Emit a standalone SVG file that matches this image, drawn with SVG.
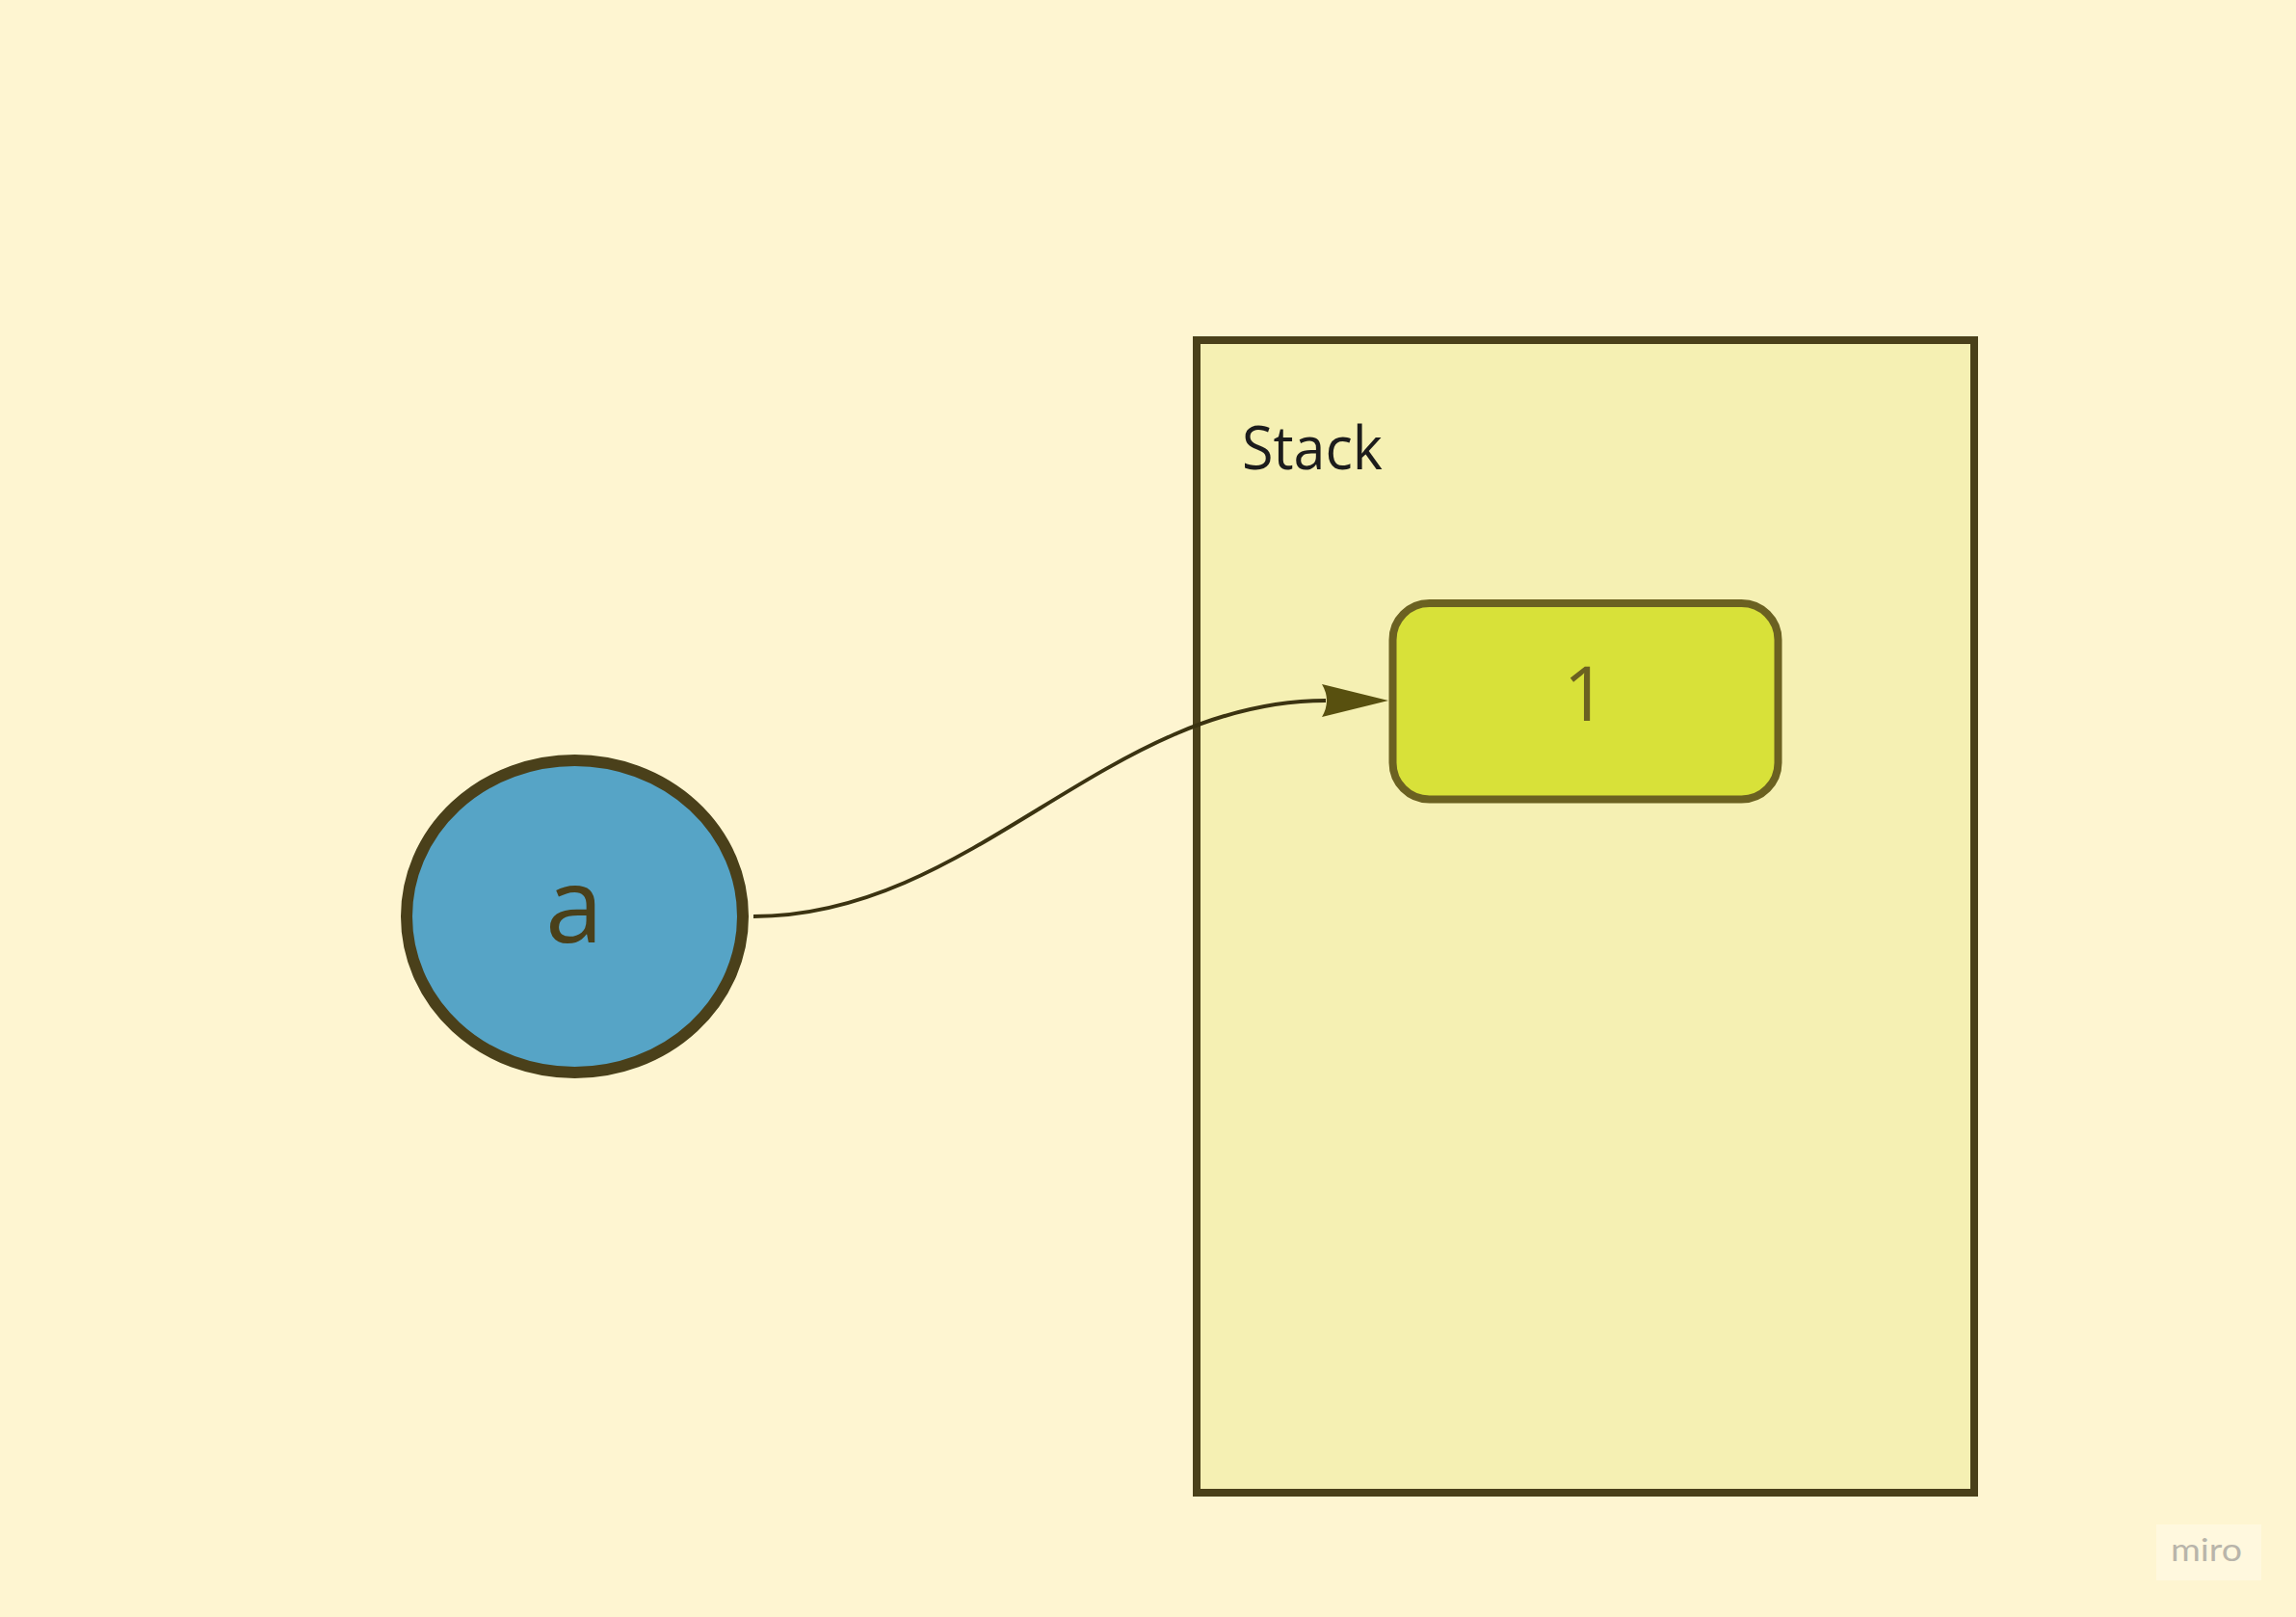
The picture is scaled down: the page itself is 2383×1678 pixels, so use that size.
<svg xmlns="http://www.w3.org/2000/svg" width="2383" height="1678" viewBox="0 0 2383 1678">
  <style>
    .lbl { font-family: "Open Sans", "Noto Sans", "Liberation Sans", sans-serif; }
  </style>
  <defs>
    <marker id="arrow" markerUnits="userSpaceOnUse" markerWidth="72" markerHeight="36" viewBox="0 0 72 36" refX="4" refY="17" orient="auto">
      <path d="M0,0 L69,17 L0,34 Q10,17 0,0 Z" fill="#58500f"/>
    </marker>
  </defs>
  <rect x="0" y="0" width="2383" height="1678" fill="#fef5d1"/>

  <g id="stack">
    <rect x="1242" y="353" width="807" height="1196" fill="#f5f0b3" stroke="#4a401a" stroke-width="8"/>
    <text class="lbl" x="1289" y="487" font-size="62" fill="#1c1c1c" textLength="146" lengthAdjust="spacingAndGlyphs">Stack</text>
  </g>

  <g id="value-1">
    <rect x="1445.5" y="626" width="400" height="203.5" rx="38" ry="38" fill="#d8e139" stroke="#6b6121" stroke-width="8"/>
    <text class="lbl" x="1645" y="748" font-size="78" fill="#6b6121" text-anchor="middle">1</text>
  </g>

  <g id="var-a">
    <ellipse cx="596.5" cy="951" rx="174.5" ry="162" fill="#56a4c6" stroke="#4a401a" stroke-width="12"/>
    <text class="lbl" x="596" y="978" font-size="108" fill="#4a401a" text-anchor="middle">a</text>
  </g>

  <g id="connectors">
    <path d="M782,951 C1010,951 1148,727 1376,727" fill="none" stroke="#3b3311" stroke-width="4" marker-end="url(#arrow)"/>
  </g>

  <g id="watermark">
    <rect x="2238" y="1582" width="109" height="58" fill="#fff8de"/>
    <text x="2253" y="1620" font-family="Lato, 'Open Sans', sans-serif" font-size="33" fill="#b9b5aa" textLength="74" lengthAdjust="spacingAndGlyphs">miro</text>
  </g>
</svg>
